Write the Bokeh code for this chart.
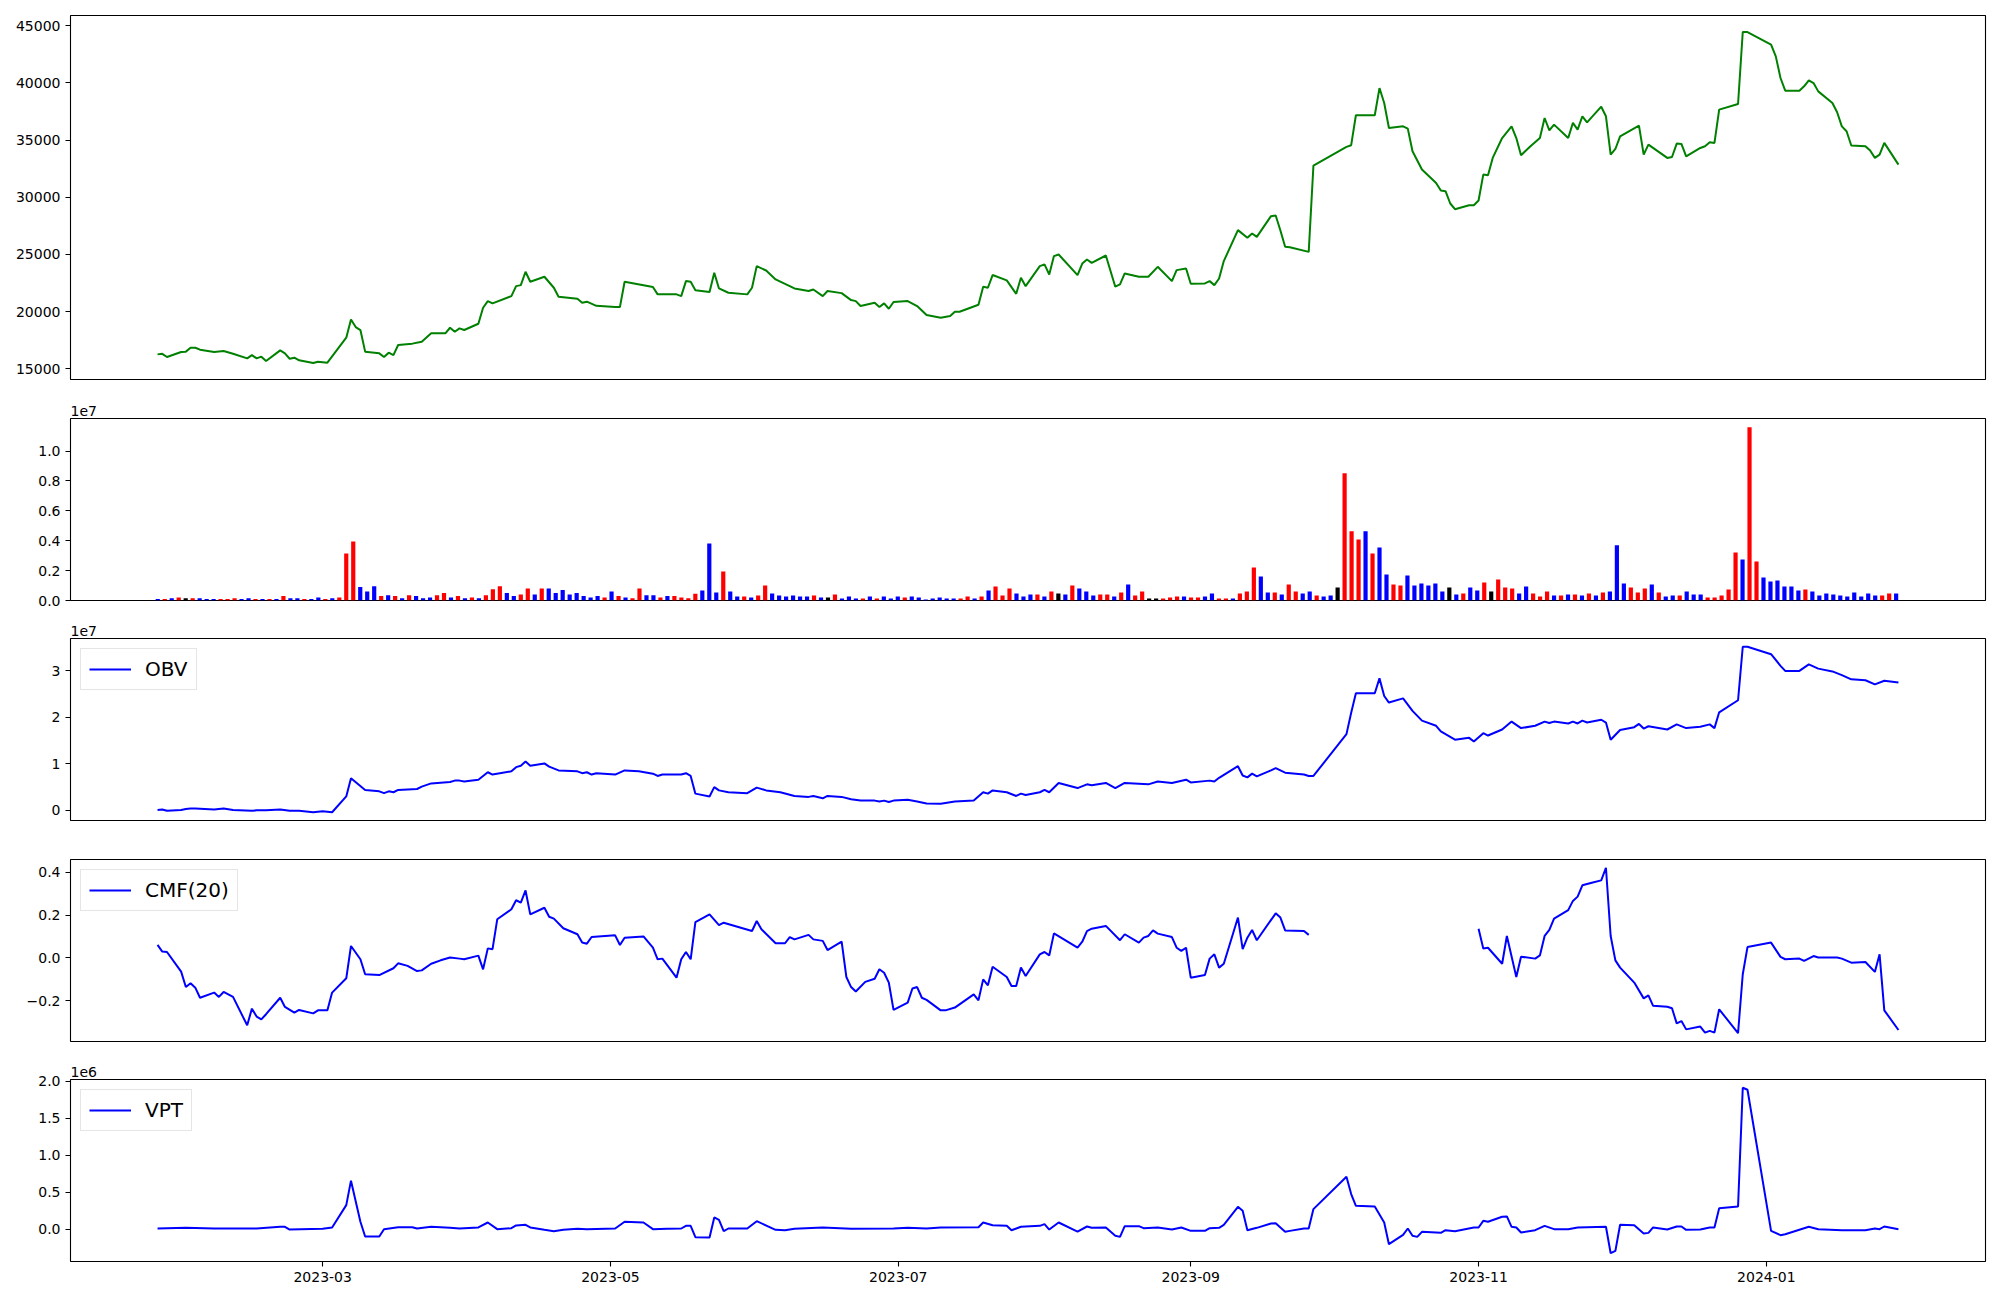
import numpy as np
import pandas as pd
from bokeh.plotting import figure
from bokeh.models import (Range1d, FixedTicker, CustomJSTickFormatter, Title,
                          Legend, LegendItem)
from bokeh.layouts import column
from bokeh.embed import file_html
from bokeh.resources import INLINE

nan = float("nan")

# ---------------- data ----------------
START = "2023-01-25"          # first trading day
END = "2024-01-29"            # last trading day
month_ticks = ["2023-03-01", "2023-05-01", "2023-07-01",
               "2023-09-01", "2023-11-01", "2024-01-01"]

price_ticks = [15000, 20000, 25000, 30000, 35000, 40000, 45000]
volume_ticks = [0, 2, 4, 6, 8, 10]          # millions of shares
obv_ticks = [0, 1, 2, 3]                      # x 1e7
cmf_ticks = [-0.2, 0.0, 0.2, 0.4]
vpt_ticks = [0.0, 0.5, 1.0, 1.5, 2.0]         # x 1e6

# closing price: calendar days after START, value
price_day = [0, 1, 2, 5, 6, 7, 8, 9, 12, 14,
             16, 19, 20, 21, 22, 23, 26, 27, 28, 29,
             30, 33, 34, 36, 40, 41, 42, 43, 44, 47,
             48, 49, 50, 51, 54, 56, 58, 61, 62, 63,
             64, 65, 68, 69, 70, 71, 75, 76, 77, 78,
             79, 82, 84, 85, 89, 90, 91, 93, 97, 98,
             99, 105, 106, 110, 111, 112, 113, 114, 117, 118,
             119, 121, 125, 126, 127, 129, 131, 135, 138, 139,
             141, 142, 145, 147, 148, 149, 152, 153, 154, 155,
             156, 159, 161, 163, 166, 168, 169, 170, 174, 175,
             176, 177, 180, 182, 183, 184, 187, 188, 189, 190,
             191, 195, 196, 197, 198, 201, 203, 204, 205, 208,
             210, 212, 215, 216, 218, 219, 222, 223, 224, 225,
             226, 229, 231, 232, 233, 236, 237, 238, 239, 240,
             244, 245, 252, 253, 254, 258, 259, 260, 261, 264,
             265, 266, 268, 271, 272, 273, 274, 275, 278, 279,
             280, 281, 282, 283, 285, 287, 288, 289, 291, 293,
             294, 295, 296, 299, 300, 301, 302, 303, 306, 307,
             308, 309, 310, 314, 315, 316, 320, 321, 322, 323,
             324, 327, 328, 329, 330, 331, 335, 336, 337, 342,
             343, 344, 345, 348, 349, 350, 351, 352, 355, 356,
             357, 358, 359, 362, 363, 364, 365, 366, 369]
price = [16250, 16300, 16020, 16460, 16490, 16830, 16830, 16660, 16460, 16540,
         16310, 15900, 16190, 15900, 16050, 15670, 16600, 16340, 15870, 15960,
         15730, 15500, 15610, 15520, 17710, 19310, 18640, 18380, 16490, 16340,
         16020, 16400, 16190, 17070, 17190, 17360, 18090, 18090, 18580, 18230,
         18530, 18380, 18930, 20330, 20910, 20710, 21350, 22220, 22310, 23480,
         22600, 23040, 22080, 21290, 21120, 20770, 20860, 20500, 20390, 20390,
         22600, 22140, 21500, 21500, 21350, 22660, 22600, 21870, 21700, 23390,
         22020, 21640, 21500, 22080, 23970, 23590, 22810, 22020, 21790, 21930,
         21350, 21790, 21610, 21000, 20910, 20480, 20770, 20390, 20710, 20240,
         20830, 20910, 20480, 19690, 19460, 19600, 19980, 19980, 20590, 22170,
         22080, 23190, 22720, 21550, 22950, 22220, 23970, 24120, 23240, 24850,
         24990, 23190, 24200, 24550, 24260, 24900, 22170, 22370, 23330, 23040,
         23040, 23910, 22660, 23620, 23770, 22430, 22460, 22660, 22310, 22890,
         24410, 27120, 26450, 26830, 26530, 28340, 28400, 27090, 25660, 25630,
         25220, 32770, 34400, 34550, 37170, 37170, 39550, 38240, 36060, 36200,
         36000, 34020, 32420, 31250, 30580, 30530, 29450, 28950, 29300, 29300,
         29710, 31980, 31920, 33440, 35180, 36200, 35180, 33670, 34460, 35180,
         36930, 35850, 36350, 35180, 36500, 35910, 37080, 36550, 37920, 37080,
         33730, 34220, 35330, 36260, 33730, 34600, 33440, 33520, 34690, 34660,
         33580, 34310, 34460, 34810, 34750, 37660, 38160, 44450, 44450, 43340,
         42320, 40430, 39320, 39320, 39700, 40220, 39990, 39260, 38240, 37430,
         36200, 35770, 34520, 34460, 34080, 33440, 33730, 34750, 32850]

# daily volume (millions of shares), one per trading day
volume_mn = [0.10, 0.10, 0.15, 0.20, 0.15, 0.15, 0.15, 0.10, 0.10, 0.10,
             0.10, 0.15, 0.10, 0.15, 0.10, 0.10, 0.10, 0.10, 0.30, 0.15,
             0.15, 0.10, 0.10, 0.20, 0.10, 0.15, 0.20, 3.15, 3.95, 0.90,
             0.60, 0.95, 0.30, 0.35, 0.30, 0.15, 0.35, 0.30, 0.15, 0.20,
             0.35, 0.50, 0.20, 0.30, 0.15, 0.20, 0.15, 0.35, 0.75, 0.95,
             0.50, 0.30, 0.40, 0.80, 0.40, 0.80, 0.80, 0.50, 0.70, 0.40,
             0.50, 0.30, 0.20, 0.30, 0.20, 0.60, 0.30, 0.20, 0.15, 0.80,
             0.35, 0.35, 0.20, 0.30, 0.30, 0.20, 0.15, 0.45, 0.67, 3.82,
             0.54, 1.94, 0.60, 0.27, 0.27, 0.20, 0.34, 1.00, 0.47, 0.34,
             0.27, 0.34, 0.27, 0.27, 0.34, 0.20, 0.20, 0.40, 0.13, 0.27,
             0.13, 0.13, 0.27, 0.13, 0.27, 0.13, 0.27, 0.20, 0.27, 0.20,
             0.07, 0.13, 0.20, 0.13, 0.13, 0.13, 0.27, 0.13, 0.27, 0.67,
             0.94, 0.34, 0.80, 0.47, 0.27, 0.40, 0.40, 0.27, 0.60, 0.47,
             0.40, 1.00, 0.80, 0.60, 0.34, 0.40, 0.40, 0.27, 0.54, 1.07,
             0.34, 0.60, 0.13, 0.13, 0.13, 0.20, 0.27, 0.27, 0.20, 0.20,
             0.27, 0.47, 0.13, 0.13, 0.13, 0.47, 0.60, 2.21, 1.61, 0.54,
             0.54, 0.40, 1.07, 0.60, 0.47, 0.60, 0.34, 0.27, 0.34, 0.87,
             8.51, 4.63, 4.09, 4.63, 3.15, 3.55, 1.74, 1.07, 1.00, 1.68,
             1.00, 1.14, 1.00, 1.14, 0.60, 0.87, 0.40, 0.47, 0.87, 0.67,
             1.21, 0.60, 1.41, 0.87, 0.80, 0.47, 0.94, 0.47, 0.27, 0.60,
             0.34, 0.34, 0.40, 0.40, 0.34, 0.47, 0.34, 0.54, 0.60, 3.69,
             1.14, 0.87, 0.54, 0.80, 1.07, 0.54, 0.27, 0.34, 0.34, 0.60,
             0.40, 0.40, 0.20, 0.20, 0.34, 0.74, 3.22, 2.75, 11.60, 2.61,
             1.54, 1.27, 1.34, 0.94, 0.94, 0.67, 0.74, 0.60, 0.34, 0.47,
             0.40, 0.34, 0.27, 0.54, 0.27, 0.47, 0.34, 0.34, 0.47, 0.47]

# day direction: 1 = up (red), -1 = down (blue), 0 = unchanged (black)
direction = [-1, 1, -1, 1, 0, 1, -1, -1, -1, 1,
             1, 1, -1, -1, 1, -1, 1, -1, 1, -1,
             -1, 1, -1, -1, 1, -1, 1, 1, 1, -1,
             -1, -1, 1, -1, 1, -1, 1, -1, -1, -1,
             1, 1, -1, 1, -1, 1, -1, 1, 1, 1,
             -1, -1, 1, 1, -1, 1, -1, -1, -1, -1,
             -1, -1, -1, -1, 1, -1, 1, -1, 1, 1,
             -1, -1, 1, -1, 1, 1, 1, 1, -1, -1,
             -1, 1, -1, -1, 1, -1, 1, 1, -1, -1,
             -1, -1, -1, -1, 1, -1, 0, 1, -1, -1,
             -1, 1, -1, 1, -1, -1, -1, 1, -1, -1,
             -1, -1, -1, -1, -1, 1, 1, -1, 1, -1,
             1, 1, 1, -1, -1, -1, 1, -1, 1, 0,
             -1, 1, -1, -1, -1, 1, 1, -1, 1, -1,
             1, 1, 0, 0, 1, 1, 1, -1, 1, 1,
             -1, -1, 1, 1, -1, 1, 1, 1, -1, -1,
             1, -1, 1, 1, -1, -1, 1, -1, -1, 0,
             1, 1, 1, -1, 1, -1, -1, 1, 1, -1,
             -1, -1, -1, -1, -1, 0, -1, 1, -1, -1,
             1, 0, 1, 1, 1, -1, -1, 1, 1, 1,
             -1, 1, -1, 1, -1, 1, -1, 1, -1, -1,
             -1, 1, 1, 1, -1, 1, -1, -1, 1, -1,
             -1, -1, 1, 1, 1, 1, 1, -1, 1, 1,
             -1, -1, -1, -1, -1, -1, 1, -1, -1, -1,
             -1, -1, -1, -1, -1, -1, -1, 1, 1, -1]

# On-balance volume (x 1e7)
obv_day = [0, 1, 2, 5, 6, 7, 8, 12, 14, 16,
           20, 21, 23, 26, 28, 30, 33, 35, 37, 40,
           41, 44, 47, 48, 49, 50, 51, 55, 56, 58,
           62, 63, 64, 65, 68, 70, 71, 75, 76, 77,
           78, 79, 82, 83, 85, 89, 90, 91, 92, 93,
           97, 99, 102, 105, 106, 107, 111, 112, 113, 114,
           117, 118, 119, 121, 125, 127, 129, 132, 135, 138,
           139, 141, 142, 145, 147, 149, 152, 153, 154, 155,
           156, 159, 161, 163, 166, 169, 173, 175, 176, 177,
           180, 182, 183, 184, 187, 188, 189, 191, 195, 197,
           198, 201, 203, 205, 210, 212, 215, 218, 219, 223,
           224, 225, 229, 230, 231, 232, 233, 236, 237, 239,
           243, 244, 245, 252, 253, 254, 258, 259, 260, 261,
           264, 266, 268, 271, 272, 275, 278, 279, 281, 282,
           285, 287, 289, 292, 294, 295, 296, 299, 300, 301,
           302, 303, 306, 307, 308, 310, 313, 314, 315, 316,
           320, 322, 324, 327, 329, 330, 331, 335, 336, 337,
           342, 344, 345, 348, 350, 352, 355, 357, 359, 362,
           364, 366, 369]
obv_e7 = [0.01, 0.02, -0.01, 0.01, 0.03, 0.04, 0.04, 0.02, 0.04, 0.01,
          -0.01, 0.00, 0.00, 0.02, -0.01, -0.01, -0.04, -0.02, -0.04, 0.30,
          0.69, 0.44, 0.41, 0.37, 0.41, 0.39, 0.44, 0.46, 0.51, 0.58,
          0.61, 0.64, 0.64, 0.62, 0.66, 0.82, 0.77, 0.84, 0.93, 0.96,
          1.05, 0.96, 1.01, 0.94, 0.86, 0.84, 0.80, 0.82, 0.77, 0.80,
          0.77, 0.86, 0.84, 0.79, 0.74, 0.77, 0.77, 0.80, 0.74, 0.36,
          0.30, 0.50, 0.43, 0.39, 0.37, 0.49, 0.43, 0.39, 0.31, 0.29,
          0.31, 0.26, 0.31, 0.29, 0.24, 0.21, 0.21, 0.19, 0.21, 0.18,
          0.21, 0.23, 0.19, 0.15, 0.14, 0.19, 0.21, 0.39, 0.36, 0.43,
          0.39, 0.31, 0.36, 0.33, 0.39, 0.44, 0.39, 0.59, 0.48, 0.56,
          0.54, 0.59, 0.48, 0.59, 0.56, 0.62, 0.59, 0.66, 0.60, 0.64,
          0.62, 0.70, 0.95, 0.75, 0.71, 0.79, 0.73, 0.86, 0.91, 0.81,
          0.77, 0.74, 0.74, 1.64, 2.10, 2.52, 2.52, 2.84, 2.46, 2.32,
          2.41, 2.14, 1.93, 1.82, 1.70, 1.52, 1.56, 1.48, 1.66, 1.61,
          1.74, 1.91, 1.77, 1.82, 1.91, 1.88, 1.91, 1.87, 1.91, 1.87,
          1.93, 1.89, 1.95, 1.89, 1.52, 1.73, 1.79, 1.86, 1.76, 1.81,
          1.74, 1.85, 1.77, 1.80, 1.85, 1.77, 2.11, 2.37, 3.52, 3.52,
          3.36, 3.11, 3.00, 3.00, 3.14, 3.05, 2.99, 2.91, 2.82, 2.80,
          2.71, 2.79, 2.75]

# Chaikin money flow (20)
cmf_day = [0, 1, 2, 5, 6, 7, 8, 9, 12, 13,
           14, 16, 19, 20, 21, 22, 23, 26, 27, 29,
           30, 33, 34, 36, 37, 40, 41, 43, 44, 47,
           50, 51, 53, 55, 56, 58, 60, 62, 64, 65,
           68, 69, 70, 71, 72, 75, 76, 77, 78, 79,
           82, 83, 84, 86, 89, 90, 91, 92, 97, 98,
           99, 103, 105, 106, 107, 110, 111, 112, 113, 114,
           117, 119, 120, 126, 127, 128, 131, 133, 134, 135,
           138, 139, 141, 142, 145, 146, 147, 148, 150, 152,
           153, 154, 155, 156, 159, 160, 161, 162, 163, 166,
           167, 169, 173, 174, 175, 176, 177, 180, 181, 182,
           183, 184, 187, 188, 189, 190, 195, 196, 197, 198,
           201, 204, 205, 208, 209, 210, 211, 212, 215, 216,
           217, 218, 219, 222, 223, 224, 225, 226, 229, 230,
           231, 232, 233, 237, 238, 239, 243, 244, 245, 280,
           281, 282, 285, 286, 288, 289, 292, 293, 294, 295,
           296, 299, 300, 301, 302, 304, 306, 307, 308, 309,
           310, 313, 315, 316, 317, 320, 321, 322, 323, 324,
           327, 328, 329, 330, 331, 335, 336, 337, 342, 344,
           345, 348, 349, 351, 352, 356, 357, 359, 362, 364,
           365, 366, 369]
cmf = [0.061, 0.030, 0.028, -0.064, -0.136, -0.118, -0.139, -0.186, -0.162, -0.182,
       -0.159, -0.182, -0.315, -0.237, -0.274, -0.287, -0.263, -0.186, -0.229, -0.256,
       -0.243, -0.259, -0.245, -0.245, -0.162, -0.095, 0.056, -0.006, -0.076, -0.080,
       -0.048, -0.025, -0.037, -0.061, -0.058, -0.027, -0.011, 0.002, -0.003, -0.006,
       0.011, -0.053, 0.045, 0.041, 0.181, 0.228, 0.270, 0.259, 0.316, 0.204,
       0.235, 0.193, 0.184, 0.139, 0.111, 0.072, 0.067, 0.098, 0.106, 0.061,
       0.095, 0.101, 0.048, -0.006, -0.003, -0.092, -0.006, 0.028, -0.006, 0.168,
       0.204, 0.154, 0.165, 0.126, 0.173, 0.134, 0.069, 0.069, 0.098, 0.087,
       0.108, 0.087, 0.080, 0.037, 0.076, -0.089, -0.136, -0.157, -0.112, -0.097,
       -0.053, -0.069, -0.115, -0.243, -0.209, -0.143, -0.136, -0.186, -0.196, -0.245,
       -0.245, -0.232, -0.170, -0.198, -0.100, -0.128, -0.041, -0.089, -0.131, -0.131,
       -0.045, -0.084, 0.017, 0.028, 0.012, 0.115, 0.048, 0.076, 0.126, 0.137,
       0.150, 0.083, 0.111, 0.072, 0.095, 0.103, 0.129, 0.114, 0.098, 0.048,
       0.033, 0.048, -0.092, -0.080, -0.003, 0.017, -0.045, -0.027, 0.189, 0.041,
       0.095, 0.131, 0.083, 0.209, 0.189, 0.129, 0.126, 0.108, nan, 0.137,
       0.044, 0.048, -0.027, 0.103, -0.089, 0.006, -0.003, 0.012, 0.103, 0.131,
       0.184, 0.224, 0.267, 0.287, 0.340, 0.352, 0.363, 0.422, 0.103, -0.011,
       -0.045, -0.115, -0.189, -0.175, -0.224, -0.228, -0.235, -0.306, -0.295, -0.334,
       -0.321, -0.349, -0.341, -0.349, -0.240, -0.352, -0.076, 0.051, 0.072, 0.005,
       -0.006, -0.003, -0.014, 0.009, 0.002, 0.002, -0.003, -0.022, -0.019, -0.065,
       0.017, -0.245, -0.337]

# Volume price trend (x 1e6)
vpt_day = [0, 6, 12, 21, 26, 27, 28, 35, 37, 40,
           41, 43, 44, 47, 48, 51, 54, 55, 58, 62,
           64, 68, 70, 72, 75, 76, 78, 79, 82, 84,
           86, 89, 91, 97, 99, 103, 105, 108, 111, 112,
           113, 114, 117, 118, 119, 120, 121, 125, 127, 131,
           133, 135, 141, 147, 156, 159, 163, 166, 174, 175,
           177, 180, 181, 183, 187, 188, 189, 191, 195, 197,
           198, 201, 203, 204, 205, 208, 209, 212, 215, 217,
           219, 222, 223, 225, 226, 229, 230, 231, 233, 236,
           237, 239, 240, 243, 244, 245, 252, 253, 254, 258,
           260, 261, 264, 265, 266, 267, 268, 272, 273, 275,
           279, 280, 281, 282, 285, 286, 287, 288, 289, 292,
           294, 296, 299, 301, 307, 308, 309, 310, 313, 315,
           316, 317, 320, 322, 323, 324, 327, 329, 330, 331,
           335, 336, 337, 342, 344, 345, 350, 352, 357, 362,
           364, 365, 366, 369]
vpt_e6 = [0.009, 0.018, 0.009, 0.009, 0.032, 0.032, -0.005, 0.005, 0.023, 0.325,
          0.655, 0.100, -0.100, -0.100, 0.000, 0.027, 0.027, 0.009, 0.032, 0.018,
          0.009, 0.023, 0.090, 0.000, 0.014, 0.050, 0.059, 0.023, -0.009, -0.027,
          -0.009, 0.005, 0.000, 0.009, 0.100, 0.090, 0.000, 0.005, 0.009, 0.045,
          0.045, -0.108, -0.113, 0.158, 0.126, -0.027, 0.009, 0.009, 0.108, -0.009,
          -0.014, 0.005, 0.023, 0.005, 0.009, 0.018, 0.009, 0.023, 0.027, 0.090,
          0.054, 0.045, -0.014, 0.032, 0.045, 0.068, -0.005, 0.090, -0.032, 0.036,
          0.018, 0.023, -0.090, -0.104, 0.041, 0.041, 0.014, 0.023, -0.005, 0.023,
          -0.023, -0.023, 0.014, 0.018, 0.059, 0.302, 0.248, -0.014, 0.018, 0.077,
          0.081, -0.036, -0.023, 0.009, 0.009, 0.271, 0.709, 0.474, 0.316, 0.307,
          0.090, -0.203, -0.077, 0.009, -0.090, -0.104, -0.036, -0.050, -0.014, -0.027,
          0.023, 0.023, 0.113, 0.100, 0.167, 0.172, 0.032, 0.023, -0.045, -0.014,
          0.045, 0.000, 0.000, 0.023, 0.032, -0.325, -0.293, 0.059, 0.054, -0.059,
          -0.050, 0.023, -0.005, 0.036, 0.036, -0.009, -0.005, 0.023, 0.023, 0.284,
          0.307, 1.910, 1.883, -0.023, -0.081, -0.068, 0.032, 0.000, -0.014, -0.014,
          0.009, 0.000, 0.036, 0.000]

# ---------------- helpers ----------------
FONT = "DejaVu Sans"
start_ts = pd.Timestamp(START)
EPOCH = pd.Timestamp("1970-01-01")


def to_dt(days):
    return (start_ts + pd.to_timedelta(np.asarray(days, dtype=float), unit="D")).values


def ms(ts):
    return (pd.Timestamp(ts) - EPOCH) / pd.Timedelta(milliseconds=1)


def padded(vals, frac=0.05):
    a = np.asarray(vals, dtype=float)
    lo, hi = np.nanmin(a), np.nanmax(a)
    pad = (hi - lo) * frac
    return Range1d(lo - pad, hi + pad)


span = ms(END) - ms(START)
date_range = Range1d(ms(START) - 0.05 * span, ms(END) + 0.05 * span)


def make_fig(frame_h, top, bottom, x_range, y_range, dt=True, offset_text=None):
    kw = {}
    if offset_text is not None:
        kw["title"] = Title(text=offset_text, align="left", offset=0, standoff=5,
                            text_font=FONT, text_font_size="14px",
                            text_font_style="normal", text_color="black")
    else:
        kw["title"] = None
    p = figure(frame_width=1915, frame_height=frame_h, x_range=x_range, y_range=y_range,
               x_axis_type="datetime" if dt else "linear",
               min_border_left=70, min_border_right=10,
               min_border_top=top, min_border_bottom=bottom,
               toolbar_location=None, output_backend="svg", **kw)
    p.outline_line_color = "black"
    p.outline_line_width = 1.1
    p.xgrid.visible = False
    p.ygrid.visible = False
    p.background_fill_color = "white"
    p.border_fill_color = "white"
    for ax in list(p.xaxis) + list(p.yaxis):
        ax.axis_line_color = None
        ax.major_tick_out = 5
        ax.major_tick_in = 0
        ax.minor_tick_line_color = None
        ax.major_tick_line_color = "black"
        ax.major_tick_line_width = 1.1
        ax.major_label_text_font = FONT
        ax.major_label_text_font_size = "14px"
        ax.major_label_text_color = "black"
        ax.major_label_standoff = 5
    return p


def add_legend(p, renderer, text):
    leg = Legend(items=[LegendItem(label=text, renderers=[renderer])],
                 location="top_left")
    leg.margin = 10
    leg.padding = 8
    leg.glyph_width = 42
    leg.glyph_height = 20
    leg.label_height = 20
    leg.label_standoff = 14
    leg.label_text_font = FONT
    leg.label_text_font_size = "20px"
    leg.label_text_color = "black"
    leg.border_line_color = "#cccccc"
    leg.border_line_width = 1
    leg.background_fill_alpha = 0.8
    p.add_layout(leg)


# ---------------- panel 1: price ----------------
p1 = make_fig(364, 15, 15, date_range, padded(price))
p1.line(to_dt(price_day), price, color="green", line_width=2)
p1.yaxis.ticker = FixedTicker(ticks=price_ticks)
p1.yaxis.formatter = CustomJSTickFormatter(code="return tick.toFixed(0);")
p1.xaxis.visible = False

# ---------------- panel 2: volume bars ----------------
idx = list(range(len(volume_mn)))
cmap = {1: "#ff0000", -1: "#0000ff", 0: "#000000"}
bar_colors = [cmap[d] for d in direction]
p2 = make_fig(182, 24, 14, Range1d(-12.5, 261.8),
              Range1d(0, max(volume_mn) * 1.05), dt=False, offset_text="1e7")
p2.vbar(x=idx, top=volume_mn, width=0.6, color=bar_colors, line_color=None)
p2.yaxis.ticker = FixedTicker(ticks=volume_ticks)
p2.yaxis.formatter = CustomJSTickFormatter(code="return (tick/10).toFixed(1);")
p2.xaxis.visible = False

# ---------------- panel 3: OBV ----------------
p3 = make_fig(182, 24, 20, date_range, padded(obv_e7), offset_text="1e7")
r3 = p3.line(to_dt(obv_day), obv_e7, color="blue", line_width=2)
p3.yaxis.ticker = FixedTicker(ticks=obv_ticks)
p3.yaxis.formatter = CustomJSTickFormatter(code="return tick.toFixed(0);")
p3.xaxis.visible = False
add_legend(p3, r3, "OBV")

# ---------------- panel 4: CMF ----------------
p4 = make_fig(182, 19, 14, date_range, padded(cmf))
r4 = p4.line(to_dt(cmf_day), cmf, color="blue", line_width=2)
p4.yaxis.ticker = FixedTicker(ticks=cmf_ticks)
p4.yaxis.formatter = CustomJSTickFormatter(
    code="return (tick < -1e-9 ? '\\u2212' : '') + Math.abs(tick).toFixed(1);")
p4.xaxis.visible = False
add_legend(p4, r4, "CMF(20)")

# ---------------- panel 5: VPT ----------------
p5 = make_fig(182, 24, 26, date_range, padded(vpt_e6), offset_text="1e6")
r5 = p5.line(to_dt(vpt_day), vpt_e6, color="blue", line_width=2)
p5.yaxis.ticker = FixedTicker(ticks=vpt_ticks)
p5.yaxis.formatter = CustomJSTickFormatter(code="return tick.toFixed(1);")
p5.xaxis.ticker = FixedTicker(ticks=[ms(t) for t in month_ticks])
p5.xaxis.formatter = CustomJSTickFormatter(code="""
const d = new Date(tick);
const m = d.getUTCMonth() + 1;
return d.getUTCFullYear() + '-' + (m < 10 ? '0' + m : '' + m);
""")
add_legend(p5, r5, "VPT")

layout = column(p1, p2, p3, p4, p5)
open("out.html", "w").write(file_html(layout, INLINE))
